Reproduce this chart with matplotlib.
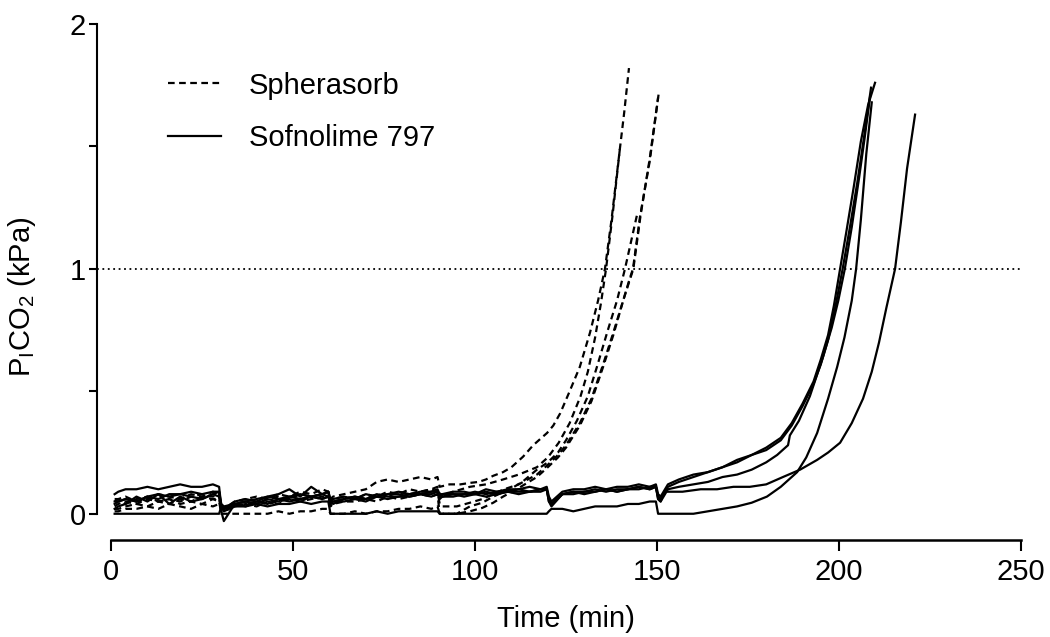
import numpy as np
import matplotlib.pyplot as plt

plt.rcParams['font.family'] = ['Liberation Sans', 'DejaVu Sans']

# shared sampling times for the flat phase (min), five 30-min blocks
T_LOW = [1, 2, 4, 7, 10, 13, 16, 19, 22, 25, 28, 29.7,
         30.3, 31, 34, 37, 40, 43, 46, 49, 52, 55, 58, 59.7,
         60.3, 61, 64, 67, 70, 73, 76, 79, 82, 85, 88, 89.7,
         90.3, 91, 94, 97, 100, 103, 106, 109, 112, 115, 118, 119.7,
         120.3, 121, 124, 127, 130, 133, 136, 139, 142, 145, 148, 149.7]

# Sofnolime 797 (solid)
SOF1_LOW = [0.08, 0.09, 0.10, 0.10, 0.11, 0.10, 0.11, 0.12, 0.11, 0.11, 0.12, 0.11,
            0.03, 0.02, 0.05, 0.06, 0.05, 0.07, 0.06, 0.07, 0.08, 0.07, 0.08, 0.09,
            0.05, 0.05, 0.06, 0.07, 0.06, 0.07, 0.08, 0.08, 0.07, 0.08, 0.09, 0.09,
            0.07, 0.07, 0.08, 0.08, 0.09, 0.08, 0.09, 0.09, 0.10, 0.09, 0.10, 0.10,
            0.06, 0.04, 0.08, 0.09, 0.09, 0.10, 0.09, 0.10, 0.10, 0.11, 0.10, 0.11]
SOF1_RISE_T = [150.3, 151, 153, 156, 160, 164, 168, 172, 176, 180, 184, 187, 190,
               193, 195, 197, 198.6, 200.3, 202, 204, 206, 208, 209.9]
SOF1_RISE_V = [0.07, 0.06, 0.11, 0.13, 0.15, 0.17, 0.19, 0.21, 0.24, 0.27, 0.31, 0.37, 0.45,
               0.54, 0.63, 0.73, 0.85, 1.00, 1.15, 1.33, 1.52, 1.67, 1.76]

SOF2_LOW = [0.05, 0.05, 0.06, 0.05, 0.07, 0.06, 0.08, 0.08, 0.09, 0.08, 0.09, 0.09,
            0.04, 0.03, 0.04, 0.05, 0.06, 0.07, 0.08, 0.10, 0.07, 0.11, 0.08, 0.09,
            0.06, 0.06, 0.07, 0.06, 0.08, 0.07, 0.08, 0.09, 0.08, 0.09, 0.09, 0.10,
            0.08, 0.08, 0.09, 0.09, 0.08, 0.10, 0.09, 0.10, 0.10, 0.11, 0.10, 0.11,
            0.07, 0.05, 0.09, 0.10, 0.10, 0.11, 0.10, 0.11, 0.11, 0.12, 0.11, 0.12]
SOF2_RISE_T = [150.3, 151, 153, 156, 160, 164, 168, 172, 176, 180, 184, 187, 190,
               193, 195, 197, 199.2, 201, 203, 205, 207, 208.8]
SOF2_RISE_V = [0.08, 0.07, 0.12, 0.14, 0.16, 0.17, 0.19, 0.22, 0.24, 0.26, 0.30, 0.36, 0.44,
               0.53, 0.61, 0.71, 0.86, 1.00, 1.17, 1.35, 1.55, 1.74]

SOF3_LOW = [0.02, 0.03, 0.04, 0.07, 0.05, 0.08, 0.04, 0.07, 0.05, 0.06, 0.08, 0.07,
            0.01, -0.03, 0.04, 0.03, 0.05, 0.04, 0.06, 0.05, 0.06, 0.07, 0.06, 0.07,
            0.04, 0.05, 0.05, 0.06, 0.05, 0.07, 0.06, 0.07, 0.07, 0.08, 0.07, 0.08,
            0.06, 0.07, 0.07, 0.08, 0.08, 0.07, 0.08, 0.09, 0.08, 0.09, 0.09, 0.10,
            0.05, 0.03, 0.08, 0.08, 0.09, 0.09, 0.10, 0.09, 0.10, 0.10, 0.11, 0.11]
SOF3_RISE_T = [150.3, 151, 153, 156, 160, 164, 168, 172, 176, 180, 183, 186, 186.5,
               189, 192, 195.6, 198, 199.8, 201.6, 203.5, 205.5, 207, 208.5]
SOF3_RISE_V = [0.06, 0.05, 0.10, 0.11, 0.12, 0.13, 0.15, 0.16, 0.18, 0.21, 0.24, 0.28, 0.32,
               0.38, 0.48, 0.64, 0.76, 0.87, 1.00, 1.17, 1.37, 1.53, 1.70]

SOF4_LOW = [0.00, 0.00, 0.00, 0.00, 0.00, 0.00, 0.00, 0.00, 0.00, 0.00, 0.00, 0.00,
            0.03, 0.02, 0.03, 0.03, 0.04, 0.03, 0.04, 0.04, 0.05, 0.04, 0.05, 0.05,
            0.00, 0.00, 0.00, 0.00, 0.00, 0.01, 0.00, 0.01, 0.01, 0.01, 0.01, 0.01,
            0.00, 0.00, 0.00, 0.00, 0.00, 0.00, 0.00, 0.00, 0.00, 0.00, 0.00, 0.00,
            0.01, 0.02, 0.02, 0.01, 0.02, 0.03, 0.03, 0.03, 0.04, 0.04, 0.05, 0.05]
SOF4_RISE_T = [150.3, 151, 155, 160, 164, 168, 172, 176, 180.2, 184, 188.5, 191,
               194, 197, 199.5, 201.5, 203.5, 204.7, 206, 207.5, 209]
SOF4_RISE_V = [0.00, 0.00, 0.00, 0.00, 0.01, 0.02, 0.03, 0.045, 0.07, 0.11, 0.17, 0.23,
               0.33, 0.47, 0.60, 0.72, 0.87, 1.00, 1.20, 1.47, 1.68]

SOF5_LOW = [0.04, 0.05, 0.06, 0.05, 0.07, 0.08, 0.07, 0.08, 0.07, 0.06, 0.08, 0.09,
            0.02, 0.02, 0.04, 0.05, 0.04, 0.06, 0.05, 0.07, 0.06, 0.07, 0.08, 0.07,
            0.05, 0.04, 0.06, 0.07, 0.06, 0.08, 0.07, 0.07, 0.08, 0.08, 0.08, 0.09,
            0.07, 0.08, 0.08, 0.07, 0.08, 0.09, 0.08, 0.09, 0.09, 0.09, 0.10, 0.10,
            0.05, 0.04, 0.08, 0.09, 0.08, 0.09, 0.10, 0.09, 0.10, 0.11, 0.10, 0.11]
SOF5_RISE_T = [150.3, 151, 152, 157, 162, 166.5, 171, 175.5, 180, 184.6, 189.3, 194,
               197, 200.3, 203.5, 206.6, 209, 211, 213, 215.4, 217, 218.7, 220.9]
SOF5_RISE_V = [0.06, 0.05, 0.09, 0.09, 0.10, 0.10, 0.11, 0.11, 0.12, 0.15, 0.18, 0.22,
               0.25, 0.29, 0.37, 0.47, 0.58, 0.70, 0.84, 1.00, 1.19, 1.41, 1.63]

# Spherasorb (dashed), flat phase uses the first three blocks of T_LOW
SPH1_LOW = [0.06, 0.06, 0.07, 0.05, 0.06, 0.08, 0.07, 0.06, 0.08, 0.07, 0.09, 0.08,
            0.03, 0.02, 0.05, 0.06, 0.07, 0.06, 0.08, 0.07, 0.09, 0.08, 0.10, 0.09,
            0.06, 0.07, 0.08, 0.09, 0.10, 0.13, 0.14, 0.13, 0.14, 0.15, 0.14, 0.15]
SPH1_RISE_T = [90.3, 93, 96, 98.6, 101, 103, 105, 107.7, 110, 113.2, 116, 119.8, 121.5,
               123.4, 126, 128.8, 131.6, 133.8, 135.7, 137.5, 139.8, 141, 142.3]
SPH1_RISE_V = [0.11, 0.12, 0.12, 0.126, 0.13, 0.14, 0.155, 0.17, 0.19, 0.233, 0.28, 0.33, 0.36,
               0.41, 0.50, 0.60, 0.74, 0.87, 1.00, 1.20, 1.49, 1.64, 1.82]

SPH2_LOW = [0.03, 0.04, 0.05, 0.04, 0.06, 0.05, 0.04, 0.06, 0.05, 0.07, 0.06, 0.06,
            0.02, 0.01, 0.03, 0.04, 0.03, 0.05, 0.04, 0.06, 0.05, 0.06, 0.07, 0.06,
            0.05, 0.06, 0.07, 0.06, 0.08, 0.07, 0.09, 0.08, 0.10, 0.09, 0.10, 0.11]
SPH2_RISE_T = [90.3, 91, 94, 98.6, 103, 107.7, 112, 117, 120, 123, 126, 129, 131,
               133, 134.6, 136, 137.8, 139.8]
SPH2_RISE_V = [0.08, 0.07, 0.09, 0.11, 0.12, 0.14, 0.16, 0.19, 0.23, 0.29, 0.37, 0.48, 0.58,
               0.72, 0.86, 1.00, 1.22, 1.49]

SPH3_LOW = [0.02, 0.02, 0.03, 0.04, 0.03, 0.05, 0.06, 0.04, 0.05, 0.04, 0.06, 0.05,
            0.00, 0.00, 0.00, 0.00, 0.00, 0.00, 0.01, 0.00, 0.01, 0.01, 0.02, 0.02,
            0.00, 0.00, 0.00, 0.01, 0.00, 0.01, 0.01, 0.02, 0.02, 0.03, 0.02, 0.03]
SPH3_RISE_T = [90.3, 91, 95, 98.6, 102, 105, 109.6, 113, 117, 120, 122.8, 125, 128,
               131, 133.5, 136.5, 139, 141.2, 143, 144.5]
SPH3_RISE_V = [0.00, 0.00, 0.00, 0.03, 0.045, 0.07, 0.10, 0.13, 0.18, 0.21, 0.25, 0.30, 0.38,
               0.48, 0.60, 0.75, 0.87, 1.00, 1.12, 1.22]

SPH4_LOW = [0.05, 0.06, 0.04, 0.06, 0.07, 0.05, 0.06, 0.05, 0.07, 0.08, 0.07, 0.08,
            0.02, 0.01, 0.03, 0.04, 0.05, 0.04, 0.05, 0.06, 0.05, 0.07, 0.06, 0.07,
            0.03, 0.04, 0.05, 0.05, 0.06, 0.05, 0.07, 0.06, 0.07, 0.08, 0.07, 0.08]
SPH4_RISE_T = [90.3, 91, 95, 98.6, 102, 105, 107.7, 112, 117, 120, 122.8, 125, 128.8,
               132, 135.2, 138, 140.7, 142.5, 143.4, 145.3, 148, 150.5]
SPH4_RISE_V = [0.00, 0.00, 0.00, 0.01, 0.024, 0.045, 0.07, 0.105, 0.15, 0.19, 0.23, 0.27, 0.36,
               0.46, 0.60, 0.73, 0.87, 0.96, 1.00, 1.21, 1.44, 1.72]

SPH5_LOW = [0.01, 0.01, 0.02, 0.02, 0.03, 0.02, 0.04, 0.03, 0.02, 0.04, 0.03, 0.04,
            0.03, 0.02, 0.04, 0.05, 0.04, 0.06, 0.07, 0.06, 0.08, 0.07, 0.08, 0.09,
            0.04, 0.05, 0.06, 0.07, 0.06, 0.08, 0.07, 0.09, 0.08, 0.09, 0.10, 0.09]
SPH5_RISE_T = [90.3, 91, 95, 98.6, 102, 105, 108, 112, 117, 120, 122.8, 125, 128.8,
               132, 135.2, 138, 140.9, 143.5, 145.5, 148, 150.3]
SPH5_RISE_V = [0.04, 0.03, 0.03, 0.045, 0.06, 0.08, 0.10, 0.12, 0.16, 0.20, 0.24, 0.28, 0.37,
               0.47, 0.61, 0.74, 0.88, 1.00, 1.22, 1.45, 1.70]

THRESHOLD = 1.0

sofnolime = [(SOF1_LOW, SOF1_RISE_T, SOF1_RISE_V),
             (SOF2_LOW, SOF2_RISE_T, SOF2_RISE_V),
             (SOF3_LOW, SOF3_RISE_T, SOF3_RISE_V),
             (SOF4_LOW, SOF4_RISE_T, SOF4_RISE_V),
             (SOF5_LOW, SOF5_RISE_T, SOF5_RISE_V)]
spherasorb = [(SPH1_LOW, SPH1_RISE_T, SPH1_RISE_V),
              (SPH2_LOW, SPH2_RISE_T, SPH2_RISE_V),
              (SPH3_LOW, SPH3_RISE_T, SPH3_RISE_V),
              (SPH4_LOW, SPH4_RISE_T, SPH4_RISE_V),
              (SPH5_LOW, SPH5_RISE_T, SPH5_RISE_V)]

fig = plt.figure(figsize=(10.5, 6.37), dpi=100)
ax = fig.add_axes([111 / 1050, 111 / 637, 910 / 1050, 502 / 637])

for i, (low, rt, rv) in enumerate(spherasorb):
    t = T_LOW[:len(low)] + rt
    v = low + rv
    ax.plot(t, v, color='black', lw=1.6, ls=(0, (3, 2)),
            label='Spherasorb' if i == 0 else None)

for i, (low, rt, rv) in enumerate(sofnolime):
    t = T_LOW[:len(low)] + rt
    v = low + rv
    ax.plot(t, v, color='black', lw=1.6,
            label='Sofnolime 797' if i == 0 else None)

ax.axhline(THRESHOLD, xmin=-0.015, xmax=1.0, color='black', lw=1.3,
           ls=(0, (1, 2)), clip_on=False)

ax.set_xlim(0, 250)
ax.set_ylim(-0.05, 2.0)

for side in ['top', 'right']:
    ax.spines[side].set_visible(False)
ax.spines['left'].set_position(('outward', 10))
ax.spines['bottom'].set_position(('outward', 10))
ax.spines['left'].set_bounds(0, 2)
ax.spines['bottom'].set_bounds(0, 250)
ax.spines['left'].set_linewidth(1.5)
ax.spines['bottom'].set_linewidth(1.8)

ax.set_xticks([0, 50, 100, 150, 200, 250])
ax.set_yticks([0, 0.5, 1, 1.5, 2])
ax.set_yticklabels(['0', '', '1', '', '2'])
ax.tick_params(axis='x', length=8, width=1.5, labelsize=21, pad=5)
ax.tick_params(axis='y', length=6, width=1.5, labelsize=21, pad=2)

ax.set_xlabel('Time (min)', fontsize=21, labelpad=14)
ax.set_ylabel(r'P$_\mathregular{I}$CO$_\mathregular{2}$ (kPa)', fontsize=21)
ax.yaxis.set_label_coords(-0.08, 0.456)

ax.legend(loc='upper left', bbox_to_anchor=(0.063, 0.905), frameon=False,
          fontsize=21, handlelength=1.8, handletextpad=0.95, labelspacing=0.85,
          borderpad=0, borderaxespad=0)

fig.savefig('out.png', dpi=100)
